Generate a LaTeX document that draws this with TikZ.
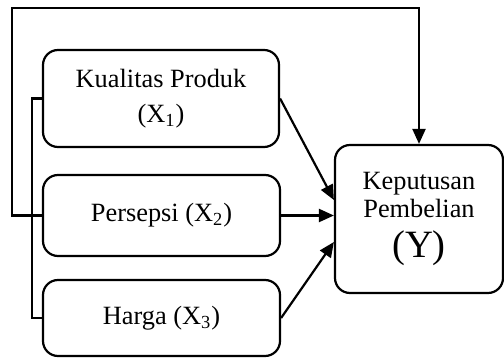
\documentclass[tikz,border=0pt]{standalone}
\usepackage{fontspec}
\setmainfont{Liberation Serif}
\usetikzlibrary{arrows.meta,positioning}

\begin{document}
\begin{tikzpicture}[
  varbox/.style={draw, line width=1.25pt, rounded corners=0.3cm, align=center,
    inner sep=0pt, font=\fontsize{15}{20}\selectfont},
  link/.style={line width=1.25pt},
  flow/.style={line width=1.25pt, -{Triangle[length=0.3cm,width=0.26cm]}}]
\useasboundingbox (0,0) rectangle (10.08,7.16);
% Independent variables (left)
\node[varbox, minimum width=4.72cm, minimum height=1.94cm] (x1) at (3.22,5.19) {Kualitas Produk\\(X\textsubscript{1})};
\node[varbox, minimum width=4.74cm, minimum height=1.62cm] (x2) at (3.23,2.85) {Persepsi (X\textsubscript{2})};
\node[varbox, minimum width=4.74cm, minimum height=1.52cm] (x3) at (3.23,0.80) {Harga (X\textsubscript{3})};
% Dependent variable (right)
\node[varbox, minimum width=3.36cm, minimum height=2.96cm,
  font=\fontsize{15}{16}\selectfont] (y) at (8.38,2.78)
  {Keputusan\\Pembelian\\[7pt]{\fontsize{22}{22}\selectfont (Y)}};
% Bracket joining X1 and X3
\coordinate (bl) at (0.64,0);
\draw[link] (x1.west) -- (x1.west -| bl) -- (x3.west -| bl) -- (x3.west);
% Loop over the top
\coordinate (lp) at (0.24,7.0);
\draw[flow] (x2.west) -- (x2.west -| lp) -- (lp) -- (lp -| y.north) -- (y.north);
% Partial effects
\draw[flow] (x1.east) -- ([yshift=0.38cm]y.west);
\draw[flow] (x2.east) -- (x2.east -| y.west);
\draw[flow] (x3.east) -- ([yshift=-0.46cm]y.west);
\end{tikzpicture}
\end{document}
